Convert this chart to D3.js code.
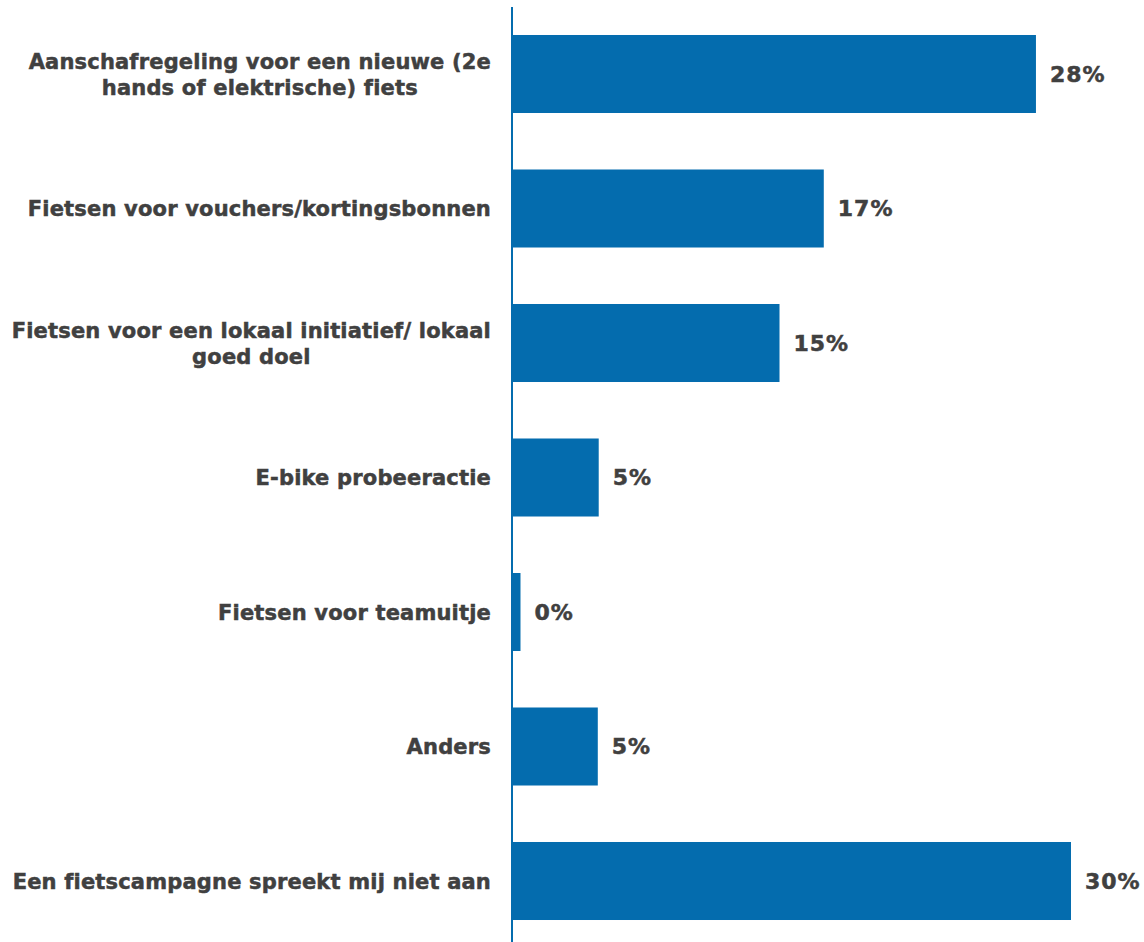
<!DOCTYPE html>
<html>
<head>
<meta charset="utf-8">
<script src="https://cdn.jsdelivr.net/npm/d3@7"></script>
<style>
  html, body { margin: 0; padding: 0; background: #fff; }
  svg { display: block; }
</style>
</head>
<body>
<svg id="chart" width="1144" height="942"></svg>
<script>
const categories = [
  "Aanschafregeling voor een nieuwe (2e\nhands of elektrische) fiets",
  "Fietsen voor vouchers/kortingsbonnen",
  "Fietsen voor een lokaal initiatief/ lokaal\ngoed doel",
  "E-bike probeeractie",
  "Fietsen voor teamuitje",
  "Anders",
  "Een fietscampagne spreekt mij niet aan"
];
const values = [28.4, 16.9, 14.5, 4.7, 0.46, 4.65, 30.3];
const labels = ["28%", "17%", "15%", "5%", "0%", "5%", "30%"];

const svg = d3.select("#chart");
const axisX = 512;
const x = d3.scaleLinear().domain([0, 30.3]).range([axisX, 1071]);
const y = d3.scaleBand().domain(categories).range([6.75, 948.25]).paddingInner(0.42).paddingOuter(0.21);

const barColor = "#046CAE";
const textColor = "#404040";
const font = "'DejaVu Sans', Verdana, sans-serif";

svg.selectAll("rect.bar").data(categories).join("rect")
  .attr("class", "bar")
  .attr("x", axisX)
  .attr("y", d => y(d))
  .attr("width", (d, i) => x(values[i]) - axisX)
  .attr("height", y.bandwidth())
  .attr("fill", barColor);

// axis line
svg.append("line")
  .attr("x1", axisX).attr("x2", axisX)
  .attr("y1", 7).attr("y2", 942)
  .attr("stroke", barColor).attr("stroke-width", 2);

// category labels: block right-aligned at labelRight, lines centred within block
const lineH = 26;
const labelRight = axisX - 21;
svg.selectAll("g.cat").data(categories).join("g")
  .attr("class", "cat")
  .each(function(d) {
    const lines = d.split("\n");
    const cy = y(d) + y.bandwidth() / 2;
    const g = d3.select(this);
    const texts = lines.map((ln, j) => g.append("text")
      .attr("font-family", font)
      .attr("font-weight", "bold")
      .attr("font-size", 21)
      .attr("letter-spacing", 0.18)
      .attr("fill", textColor)
      .attr("stroke", textColor)
      .attr("stroke-width", 0.5)
      .attr("text-anchor", "middle")
      .attr("y", cy + (j - (lines.length - 1) / 2) * lineH)
      .attr("dy", "0.36em")
      .text(ln));
    const maxW = d3.max(texts, t => t.node().getComputedTextLength());
    texts.forEach(t => t.attr("x", labelRight - maxW / 2));
  });

// value labels
svg.selectAll("text.val").data(categories).join("text")
  .attr("class", "val")
  .attr("x", (d, i) => x(values[i]) + 14)
  .attr("y", d => y(d) + y.bandwidth() / 2)
  .attr("dy", "0.36em")
  .attr("font-family", font)
  .attr("font-weight", "bold")
  .attr("font-size", 22)
  .attr("letter-spacing", 1)
  .attr("fill", textColor)
  .attr("stroke", textColor)
  .attr("stroke-width", 0.5)
  .text((d, i) => labels[i]);
</script>
</body>
</html>
